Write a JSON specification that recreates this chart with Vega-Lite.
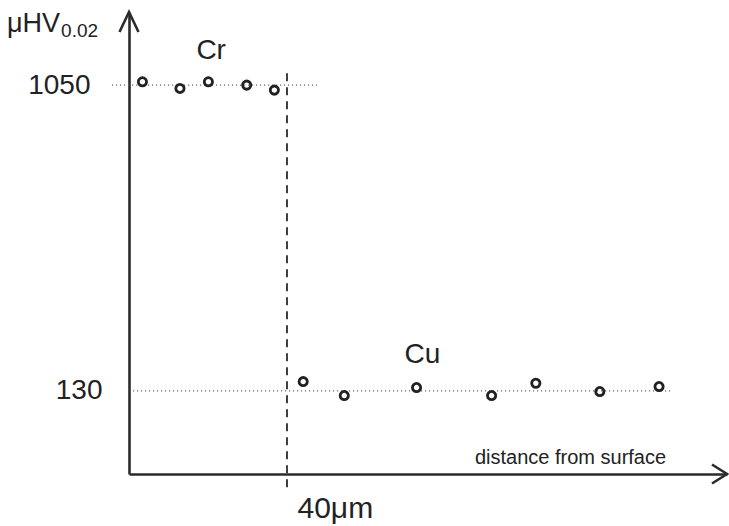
{
  "$schema": "https://vega.github.io/schema/vega-lite/v6.json",
  "width": 598,
  "height": 462,
  "autosize": {"type": "none"},
  "padding": {"left": 129, "top": 12, "right": 2, "bottom": 52},
  "background": "white",
  "config": {
    "view": {"stroke": null},
    "font": "Liberation Sans",
    "text": {"font": "Liberation Sans", "color": "#222222"}
  },
  "datasets": {
    "cr": [
      {"d": 3.4, "h": 1060},
      {"d": 12.9, "h": 1040},
      {"d": 20.1, "h": 1060},
      {"d": 29.8, "h": 1050},
      {"d": 36.8, "h": 1035}
    ],
    "cu": [
      {"d": 44.1, "h": 158},
      {"d": 54.5, "h": 116},
      {"d": 72.8, "h": 140},
      {"d": 91.8, "h": 116},
      {"d": 103.0, "h": 153},
      {"d": 119.2, "h": 128},
      {"d": 134.2, "h": 143}
    ],
    "levels": [
      {"layer": "Cr", "d": -4.3, "d2": 47.6, "h": 1050},
      {"layer": "Cu", "d": 1.0, "d2": 137.7, "h": 130}
    ],
    "interface": [
      {"d": 40, "h": 1086, "h2": -162}
    ]
  },
  "encoding": {
    "x": {
      "field": "d",
      "type": "quantitative",
      "scale": {"domain": [0, 151.4], "nice": false, "zero": false},
      "axis": {
        "orient": "bottom",
        "grid": false,
        "ticks": false,
        "domain": true,
        "domainColor": "#2b2b2b",
        "domainWidth": 2.6,
        "values": [40],
        "labelExpr": "'40μm'",
        "labelFont": "Liberation Sans",
        "labelFontSize": 30,
        "labelColor": "#222222",
        "labelAlign": "left",
        "labelBaseline": "alphabetic",
        "labelOffset": 10,
        "labelPadding": 43,
        "labelFlush": false,
        "labelOverlap": false,
        "labelBound": false,
        "title": "distance from surface",
        "titleFont": "Liberation Sans",
        "titleFontSize": 20,
        "titleFontWeight": "normal",
        "titleColor": "#222222",
        "titleAlign": "center",
        "titleBaseline": "alphabetic",
        "titleX": 441,
        "titleY": -11
      }
    },
    "y": {
      "field": "h",
      "type": "quantitative",
      "scale": {"domain": [-120, 1270], "nice": false, "zero": false},
      "axis": {
        "orient": "left",
        "grid": false,
        "ticks": false,
        "domain": true,
        "domainColor": "#2b2b2b",
        "domainWidth": 2.6,
        "values": [130, 1050],
        "format": "d",
        "labelFont": "Liberation Sans",
        "labelFontSize": 28,
        "labelColor": "#222222",
        "labelAlign": "right",
        "labelBaseline": "middle",
        "labelPadding": {"condition": {"test": "datum.value == 130", "value": 27}, "value": 39},
        "labelOverlap": false,
        "labelBound": false,
        "title": null
      }
    }
  },
  "layer": [
    {
      "data": {"name": "levels"},
      "mark": {"type": "rule", "color": "#6a6a6a", "strokeWidth": 1.2, "strokeDash": [1.2, 2.8]},
      "encoding": {"x2": {"field": "d2"}}
    },
    {
      "data": {"name": "interface"},
      "mark": {"type": "rule", "color": "#2b2b2b", "strokeWidth": 1.8, "strokeDash": [8, 6]},
      "encoding": {"y2": {"field": "h2"}}
    },
    {
      "data": {"name": "cr"},
      "mark": {"type": "point", "shape": "circle", "filled": false, "size": 68, "stroke": "#222222", "strokeWidth": 2.8, "opacity": 1}
    },
    {
      "data": {"name": "cu"},
      "mark": {"type": "point", "shape": "circle", "filled": false, "size": 68, "stroke": "#222222", "strokeWidth": 2.8, "opacity": 1}
    },
    {
      "data": {"values": [{"axis": "hardness", "d": 0, "h": 1270}]},
      "mark": {"type": "point", "shape": "M-0.95,2L0,0L0.95,2", "size": 400, "filled": false, "stroke": "#2b2b2b", "strokeWidth": 2.6, "strokeJoin": "miter", "opacity": 1}
    },
    {
      "data": {"values": [{"axis": "distance", "d": 151.4, "h": -120}]},
      "mark": {"type": "point", "shape": "M-1.5,-0.95L0,0L-1.5,0.95", "size": 400, "filled": false, "stroke": "#2b2b2b", "strokeWidth": 2.6, "strokeJoin": "miter", "opacity": 1}
    },
    {
      "data": {"values": [{"label": "Cr", "d": 20.8, "h": 1129}, {"label": "Cu", "d": 74.3, "h": 213}]},
      "mark": {"type": "text", "fontSize": 28, "align": "center", "baseline": "alphabetic"},
      "encoding": {"text": {"field": "label"}}
    },
    {
      "data": {"values": [{"label": "μHV", "d": -30.9, "h": 1210}]},
      "mark": {"type": "text", "fontSize": 27, "align": "left", "baseline": "alphabetic"},
      "encoding": {"text": {"field": "label"}}
    },
    {
      "data": {"values": [{"label": "0.02", "d": -17.2, "h": 1195}]},
      "mark": {"type": "text", "fontSize": 19, "align": "left", "baseline": "alphabetic"},
      "encoding": {"text": {"field": "label"}}
    }
  ]
}
